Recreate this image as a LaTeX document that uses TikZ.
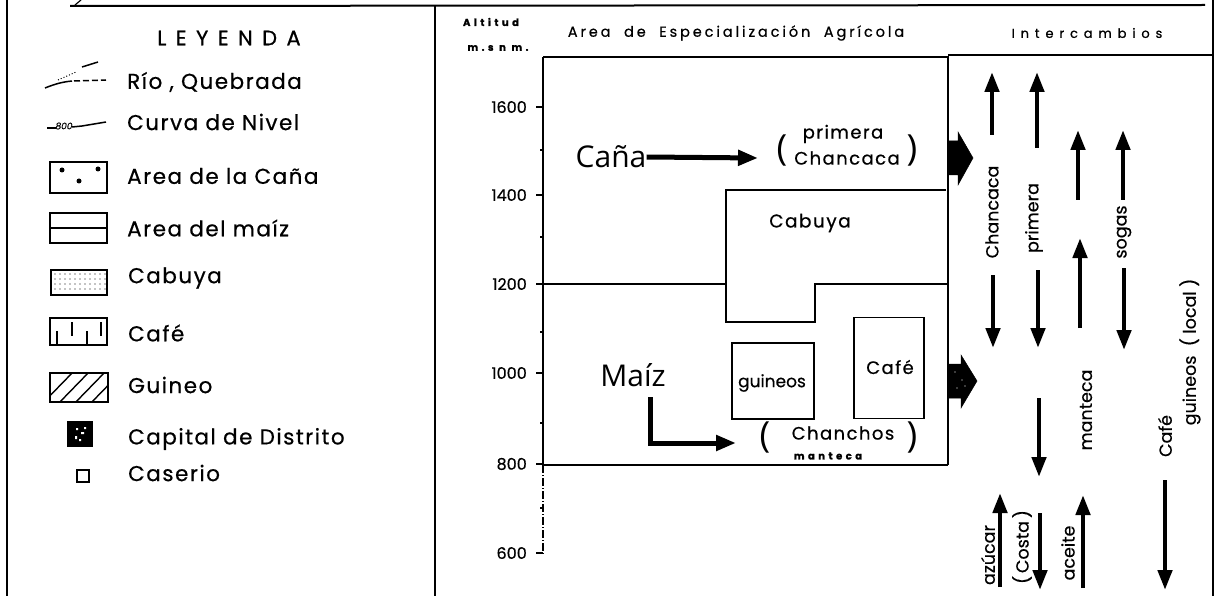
\documentclass[tikz,border=0pt]{standalone}
\usepackage{fontspec}
\setmainfont{Poppins}[FakeBold=0.5]
\newfontfamily\thinfont{Open Sans}
\newfontfamily\legfont[LetterSpace=7,FakeBold=0.6]{Poppins}
\newfontfamily\spacedfont[LetterSpace=45,FakeBold=0.8]{Poppins}
\newfontfamily\widefont[LetterSpace=20,FakeBold=0.5]{Poppins}
\newfontfamily\midfont[LetterSpace=8,FakeBold=0.6]{Poppins}
\newfontfamily\tinyfont[LetterSpace=35,FakeBold=1.5]{Poppins}
\usetikzlibrary{arrows.meta}
\begin{document}
\begin{tikzpicture}[x=1pt,y=-1pt,
  frame/.style={line width=2pt},
  ln/.style={line width=2pt},
  lab/.style={inner sep=0pt, font=\midfont\fontsize{18}{20}\selectfont},
  leg/.style={inner sep=0pt, anchor=west, font=\legfont\fontsize{21.5}{23}\selectfont},
  ticklab/.style={inner sep=0pt, anchor=east, font=\fontsize{16}{17}\selectfont},
  rlab/.style={inner sep=0pt, rotate=90, font=\fontsize{17.5}{19}\selectfont},
  big/.style={inner sep=0pt, font=\thinfont\fontsize{30}{32}\selectfont},
  paren/.style={inner sep=0pt, font=\thinfont\fontsize{36}{38}\selectfont},
  xarr/.style={line width=4.5pt, -{Triangle[length=20pt,width=14pt]}},
  harr/.style={line width=5pt, -{Triangle[length=20pt,width=15pt]}},
  fat/.style={fill=black, draw=black, line width=0.5pt}]
\useasboundingbox (0,0) rectangle (1215,596);
% ---------- frame ----------
\draw[frame] (7,0) -- (7,596);
\draw[frame] (1213,0) -- (1213,596);
\draw[frame] (435,6) -- (435,596);
\draw[frame] (70,6) -- (1205,5);
\draw[line width=1.2pt] (75,5) -- (81,0);
\draw[ln] (948,55) -- (1213,55);
% ---------- legend ----------
\node[inner sep=0pt, font=\spacedfont\fontsize{21}{23}\selectfont] (leyenda) at (229,38) {LEYENDA};
% rio
\draw[line width=1.5pt] (45,88) .. controls (55,84) and (62,82) .. (72,81);
\draw[line width=1.5pt, dash pattern=on 6pt off 3pt] (74,81) -- (106,80);
\draw[line width=1pt, dotted] (58,80) -- (76,72);
\draw[line width=1.5pt] (82,67) -- (98,62);
\node[leg] (trio) at (127,82) {Río , Quebrada};
% curva
\draw[line width=1.5pt] (47,128) -- (56,128);
\node[inner sep=0pt, font=\itshape\fontsize{9}{10}\selectfont] (c800) at (64,126) {800};
\draw[line width=1.5pt] (72,127) -- (82,126) -- (106,122);
\node[leg] (tcurva) at (127,122) {Curva de Nivel};
% cana box
\draw[line width=1.6pt] (50,162) rectangle (107,193);
\fill (62,170) circle (2.5pt) (98,169) circle (2.5pt) (79,181) circle (2.5pt);
\node[leg] (tcana) at (127,176) {Area de la Caña};
% maiz box
\draw[line width=1.6pt] (50,213) rectangle (107,243);
\draw[line width=1.6pt] (50,228) -- (107,228);
\node[leg] (tmaiz) at (127,228) {Area del maíz};
% cabuya box
\draw[line width=1.6pt] (51,270) rectangle (107,295);
\foreach \yy in {274,279,284,289} {\foreach \xx in {55,60,...,105} {\fill (\xx,\yy) circle (0.7pt);}}
\node[leg] (tcabuya) at (128,278) {Cabuya};
% cafe box
\draw[line width=1.6pt] (50,318) rectangle (107,345);
\draw[line width=1.3pt] (57,331) -- (57,345) (72,322) -- (72,336) (87,331) -- (87,345) (101,322) -- (101,336);
\node[leg] (tcafe) at (128,333) {Café};
% guineo box
\begin{scope}
\clip (50,373) rectangle (108,402);
\foreach \xx in {40,56,...,136} {\draw[line width=1.4pt] (\xx,406) -- (\xx+36,369);}
\end{scope}
\draw[line width=1.6pt] (50,373) rectangle (108,402);
\node[leg] (tguineo) at (128,385) {Guineo};
% capital
\fill (67,421) rectangle (93,447);
\fill[white] (76,428) rectangle (78,430) (81,432) rectangle (84,434) (75,436) rectangle (77,439) (84,427) rectangle (86,429) (79,439) rectangle (81,441);
\node[leg] (tcapital) at (128,439) {Capital de Distrito};
% caserio
\draw[line width=1.6pt] (77,470) rectangle (89,482);
\node[leg] (tcaserio) at (128,473) {Caserio};
% ---------- chart headers ----------
\node[inner sep=0pt, font=\tinyfont\bfseries\fontsize{10}{11}\selectfont] (alt) at (491,22) {Altitud};
\node[inner sep=0pt, font=\tinyfont\bfseries\fontsize{10}{11}\selectfont] (msnm) at (498,48) {m.s n m.};
\node[inner sep=0pt, font=\widefont\fontsize{14.5}{16}\selectfont] (area) at (736,33) {Area \ de \ Especialización \ Agrícola};
\node[inner sep=0pt, font=\spacedfont\fontsize{13}{15}\selectfont] (inter) at (1087,33) {Intercambios};
% ---------- axis ----------
\draw[ln] (543,57) -- (543,465);
\draw[line width=1.3pt, dash pattern=on 8pt off 2pt on 1pt off 2pt] (543,465) -- (543,555);
\foreach \yy/\lab in {107/1600,195/1400,284/1200,373/1000,464/800,553/600} {
  \draw[line width=1.4pt] (536,\yy) -- (543,\yy);
  \node[ticklab] at (527,\yy) {\lab};
}
\foreach \yy in {150,237,332,423,508} {\draw[line width=1.2pt] (540,\yy) -- (543,\yy);}
% ---------- chart boxes ----------
\draw[ln] (543,57) -- (948,57) -- (948,465);
\draw[line width=2.6pt] (543,465) -- (948,465);
\draw[ln] (543,284) -- (726,284);
\draw[ln] (946,190) -- (726,190) -- (726,322) -- (815,322) -- (815,284) -- (948,284);
\node[lab, font=\midfont\fontsize{18.5}{20}\selectfont] (cabuya) at (810,223) {Cabuya};
\node[draw, line width=1.8pt, minimum width=82pt, minimum height=76pt, inner sep=0pt] (guineos) at (773,381) {};
\node[inner sep=0pt, font=\fontsize{17}{19}\selectfont] at (772,383) {guineos};
\node[draw, line width=1.8pt, minimum width=70pt, minimum height=101pt, inner sep=0pt] (cafe) at (889,368) {};
\node[lab] at (890,367) {Café};
% cana
\node[big] (cana) at (611,157) {Caña};
\node[paren] (lp1) at (782,150) {(};
\node[paren] (rp1) at (912,150) {)};
\node[lab] (primera) at (843,134) {primera};
\node[lab] (chancaca) at (847,158) {Chancaca};
\draw[harr] (cana.east) -- (758,158);
% maiz
\node[big] (maiz) at (633,375) {Maíz};
\node[paren] (lp2) at (765,437) {(};
\node[paren] (rp2) at (912,437) {)};
\node[lab] (chanchos) at (843,433) {Chanchos};
\node[inner sep=0pt, font=\tinyfont\bfseries\fontsize{10}{11}\selectfont] (manteca) at (828,456) {manteca};
\coordinate (mz0) at (650,397);
\coordinate (mz1) at (736,443);
\draw[line width=5pt, -{Triangle[length=20pt,width=15pt]}] (mz0) |- (mz1);
% fat arrows
\draw[fat] (948,141) -- (958,141) -- (958,132) -- (973,158) -- (958,185) -- (958,175) -- (948,175) -- cycle;
\draw[fat] (948,364) -- (961,364) -- (961,355) -- (977,381) -- (961,408) -- (961,398) -- (948,398) -- cycle;
\fill[white] (955,372) circle (0.6pt) (962,380) circle (0.7pt) (957,388) circle (0.6pt) (965,386) circle (0.6pt);
% ---------- intercambios ----------
\coordinate (a1s) at (992,135); \coordinate (a1e) at (992,72);
\coordinate (a2s) at (993,275); \coordinate (a2e) at (993,348);
\coordinate (b1s) at (1037,148); \coordinate (b1e) at (1037,72);
\coordinate (b2s) at (1038,270); \coordinate (b2e) at (1038,348);
\coordinate (b3s) at (1039,398); \coordinate (b3e) at (1039,477);
\coordinate (b4s) at (1040,513); \coordinate (b4e) at (1040,590);
\coordinate (azs) at (1000,587); \coordinate (aze) at (1000,493);
\coordinate (c1s) at (1078,200); \coordinate (c1e) at (1078,130);
\coordinate (c2s) at (1080,328); \coordinate (c2e) at (1080,238);
\coordinate (acs) at (1083,588); \coordinate (ace) at (1083,495);
\coordinate (d1s) at (1123,200); \coordinate (d1e) at (1123,130);
\coordinate (d2s) at (1124,268); \coordinate (d2e) at (1124,350);
\coordinate (e1s) at (1165,480); \coordinate (e1e) at (1165,590);
\foreach \p in {a1,a2,b1,b2,b3,b4,az,c1,c2,ac,d1,d2,e1} {\draw[xarr] (\p s) -- (\p e);}
\node[rlab] (lchancaca) at (992,212) {Chancaca};
\node[rlab] (lprimera) at (1034,218) {primera};
\node[rlab] (lsogas) at (1124,232) {sogas};
\node[rlab] (lmanteca) at (1086,410) {manteca};
\node[rlab] (lcafe) at (1165,436) {Café};
\node[rlab] (lguineos) at (1190,352) {guineos \ ( local )};
\node[rlab] (lazucar) at (988,555) {azúcar};
\node[rlab] (lcosta) at (1022,547) {(\,Costa\,)};
\node[rlab] (laceite) at (1068,553) {aceite};
\end{tikzpicture}
\end{document}
